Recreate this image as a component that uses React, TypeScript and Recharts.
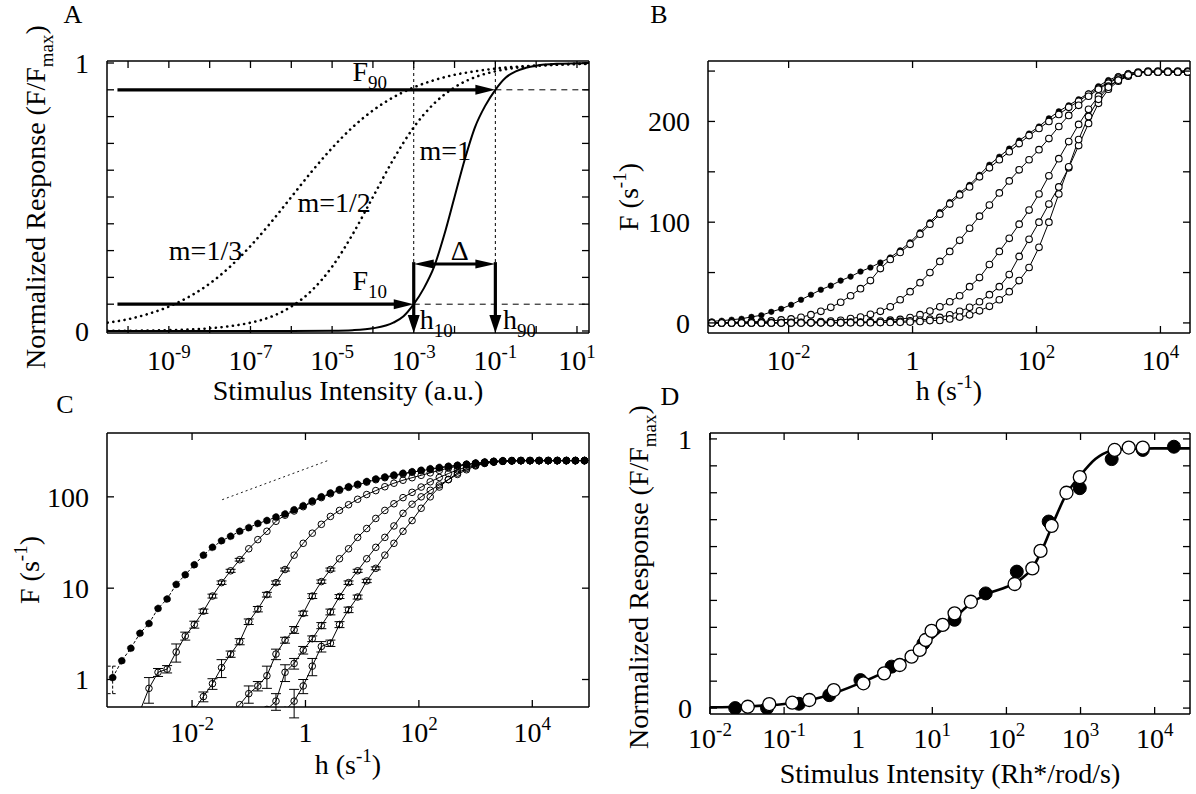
import React from 'react';
import { ComposedChart, Line, XAxis, YAxis, ReferenceLine, ReferenceDot, ErrorBar } from 'recharts';

const W = 1196;
const H = 794;
const FONT = "'Liberation Serif', 'Times New Roman', Times, serif";
const FS = 28;
const SM = 19;

// ---------------- Panel A : model curves (log10 stimulus, normalized response) ----------------
const A_M1_LOG = [-10.5, -6, -5, -4.5, -4, -3.5, -3.25, -3, -2.75, -2.5, -2.25, -2, -1.75, -1.5, -1.25, -1, -0.75, -0.5, -0.25, 0, 0.5, 1, 1.3];
const A_M1_F = [0, 0.0001, 0.001, 0.003, 0.01, 0.031, 0.055, 0.1, 0.16, 0.24, 0.36, 0.5, 0.64, 0.76, 0.84, 0.9, 0.945, 0.969, 0.982, 0.99, 0.997, 0.999, 1.0];
const A_M2_LOG = [-10.5, -10, -9, -8, -7.5, -7, -6.5, -6, -5.5, -5, -4.5, -4, -3.5, -3, -2.5, -2, -1.5, -1, -0.5, 0, 0.5, 1, 1.3];
const A_M2_F = [0.001, 0.001, 0.003, 0.01, 0.018, 0.031, 0.053, 0.091, 0.151, 0.24, 0.36, 0.5, 0.64, 0.76, 0.849, 0.909, 0.947, 0.969, 0.982, 0.99, 0.994, 0.997, 0.998];
const A_M3_LOG = [-10.5, -10, -9.5, -9, -8.5, -8, -7.5, -7, -6.5, -6, -5.5, -5, -4.5, -4, -3.5, -3, -2.5, -2, -1.5, -1, -0.5, 0, 0.5, 1, 1.3];
const A_M3_F = [0.031, 0.044, 0.064, 0.091, 0.128, 0.177, 0.24, 0.317, 0.405, 0.5, 0.595, 0.683, 0.76, 0.823, 0.872, 0.909, 0.936, 0.956, 0.969, 0.979, 0.986, 0.99, 0.994, 0.996, 0.997];
const A_H10 = 1e-3;
const A_H90 = 1e-1;
const A_F10 = 0.1;
const A_F90 = 0.9;
const A_ARROW_FROM = 5.5e-11;
const A_BRACKET_TOP = 0.257;
const A_DELTA_Y = 0.25;
const A_X_TICKS = [1e-10, 1e-9, 1e-8, 1e-7, 1e-6, 1e-5, 1e-4, 1e-3, 1e-2, 1e-1, 1, 10];
const A_X_LABELED = [-9, -7, -5, -3, -1, 1];
const UNIT_TICKS = [0, 0.1, 0.2, 0.3, 0.4, 0.5, 0.6, 0.7, 0.8, 0.9, 1];

// ---------------- Panels B & C : firing rate F vs h (same data) ----------------
const HC_LOG = [-3.4, -3.24, -3.08, -2.92, -2.76, -2.6, -2.44, -2.28, -2.12, -1.96, -1.8, -1.64, -1.48, -1.32, -1.16, -1.0, -0.84, -0.68, -0.52, -0.36, -0.2, -0.04, 0.12, 0.28, 0.44, 0.6, 0.76, 0.92, 1.08, 1.24, 1.4, 1.56, 1.72, 1.88, 2.04, 2.2, 2.36, 2.52, 2.68, 2.84, 3.0, 3.16, 3.32, 3.48, 3.64, 3.8, 3.96, 4.12, 4.28, 4.44, 4.6, 4.76, 4.92];
const F_FILLED = [1.05, 1.6, 2.2, 3.2, 4.1, 6.0, 7.6, 11, 14, 18, 23, 28, 33, 37, 42, 46, 51, 55, 60, 65, 72, 80, 90, 100, 110, 120, 129, 137, 147, 157, 165, 173, 181, 188, 195, 203, 210, 216, 222, 228, 235, 241, 245, 248, 249, 250, 250, 250, 250, 250, 250, 250, 250];
const F_OPEN1 = [0.1, 0.15, 0.25, 0.45, 0.8, 1.2, 1.3, 2.0, 3.0, 4.0, 5.6, 8.2, 11.5, 15.5, 20.5, 27, 34, 42, 54, 63, 70, 78, 88, 98, 108, 118, 127, 135, 145, 154, 162, 170, 178, 186, 193, 200, 207, 214, 220, 227, 233, 239, 244, 247, 249, 250, 250, 250, 250, 250, 250, 250, 250];
const F_OPEN2 = [0.05, 0.06, 0.08, 0.1, 0.13, 0.17, 0.22, 0.28, 0.36, 0.47, 0.65, 0.9, 1.35, 1.9, 2.6, 4.3, 5.9, 8.5, 11.5, 16, 23, 31, 40, 50, 61, 71, 82, 94, 106, 117, 129, 141, 152, 162, 172, 183, 195, 206, 216, 225, 232, 238, 243, 246, 248, 249, 249, 249, 249, 249, 249, 249, 249];
const F_OPEN3 = [0.02, 0.025, 0.03, 0.04, 0.05, 0.06, 0.08, 0.1, 0.13, 0.16, 0.2, 0.26, 0.33, 0.42, 0.53, 0.7, 0.85, 1.1, 1.9, 2.7, 3.5, 5.3, 8.2, 11.8, 16, 21, 27, 36, 45, 58, 71, 84, 98, 112, 128, 146, 163, 180, 197, 212, 225, 235, 241, 245, 248, 249, 249, 249, 249, 249, 249, 249, 249];
const F_OPEN4 = [0.01, 0.012, 0.015, 0.02, 0.025, 0.03, 0.04, 0.05, 0.06, 0.08, 0.1, 0.13, 0.16, 0.2, 0.25, 0.3, 0.38, 0.47, 0.58, 1.2, 1.5, 2.1, 2.8, 3.9, 5.5, 8.1, 11.5, 15.5, 21, 28, 36, 48, 66, 83, 100, 118, 135, 154, 176, 198, 218, 232, 240, 245, 248, 249, 249, 249, 249, 249, 249, 249, 249];
const F_OPEN5 = [0.005, 0.006, 0.008, 0.01, 0.012, 0.015, 0.02, 0.025, 0.03, 0.04, 0.05, 0.06, 0.08, 0.1, 0.13, 0.17, 0.22, 0.28, 0.36, 0.46, 0.58, 0.85, 1.4, 2.3, 2.5, 4.0, 5.8, 8.0, 12, 16.5, 23, 31, 42, 55, 75, 100, 128, 155, 182, 205, 222, 234, 241, 246, 248, 249, 249, 249, 249, 249, 249, 249, 249];
// error bars (grid index, half-width) shown in panel C
const ERR_FILLED = [[0, 0.35]];
const ERR_OPEN1 = [[4, 0.25], [5, 0.12], [6, 0.12], [7, 0.45], [8, 0.3], [9, 0.35], [10, 0.3], [11, 0.4], [12, 0.5], [13, 0.6], [14, 0.7]];
const ERR_OPEN2 = [[10, 0.08], [11, 0.12], [12, 0.3], [13, 0.15], [14, 0.2], [15, 0.3], [16, 0.4], [17, 0.5], [18, 0.5], [19, 0.6]];
const ERR_OPEN3 = [[15, 0.15], [16, 0.1], [17, 0.3], [18, 0.25], [19, 0.2], [20, 0.3], [21, 0.3], [22, 0.5], [23, 0.5], [24, 0.6]];
const ERR_OPEN4 = [[18, 0.12], [19, 0.25], [20, 0.2], [21, 0.2], [22, 0.2], [23, 0.3], [24, 0.4], [25, 0.4], [26, 0.5], [27, 0.6]];
const ERR_OPEN5 = [[20, 0.2], [21, 0.15], [22, 0.3], [23, 0.3], [24, 0.2], [25, 0.3], [26, 0.4], [27, 0.4], [28, 0.5], [29, 0.6]];
const C_SLOPE_H = [0.034, 2.5];
const C_SLOPE_F = [93, 250];
const BC_X_TICKS = [1e-2, 1, 1e2, 1e4];
const B_Y_TICKS = [0, 50, 100, 150, 200, 250];
const B_Y_LABELED = [0, 100, 200];
const C_Y_TICKS = [1, 10, 100];

// ---------------- Panel D : normalized response vs stimulus ----------------
const D_FILLED_LOG = [-1.66, -1.23, -0.8, -0.39, 0.03, 0.45, 0.88, 1.3, 1.72, 2.14, 2.57, 2.99, 3.42, 3.84, 4.26];
const D_FILLED_F = [0.0, 0.0, 0.016, 0.048, 0.104, 0.154, 0.24, 0.328, 0.426, 0.507, 0.693, 0.817, 0.925, 0.959, 0.971];
const D_OPEN_LOG = [-1.49, -1.2, -0.89, -0.66, -0.33, 0.07, 0.35, 0.56, 0.72, 0.83, 0.91, 0.99, 1.14, 1.3, 1.52, 2.11, 2.35, 2.46, 2.61, 2.81, 2.99, 3.46, 3.65, 3.84];
const D_OPEN_F = [0.005, 0.015, 0.02, 0.03, 0.067, 0.092, 0.129, 0.16, 0.191, 0.216, 0.253, 0.287, 0.309, 0.352, 0.395, 0.461, 0.519, 0.584, 0.677, 0.8, 0.858, 0.959, 0.968, 0.968];
const D_FIT_LOG = [-2, -1.5, -1, -0.5, 0, 0.5, 0.75, 1, 1.25, 1.5, 1.75, 2, 2.2, 2.35, 2.5, 2.65, 2.8, 3, 3.2, 3.4, 3.6, 4, 4.48];
const D_FIT_F = [0.003, 0.006, 0.015, 0.04, 0.09, 0.155, 0.2, 0.26, 0.32, 0.385, 0.425, 0.45, 0.48, 0.52, 0.6, 0.7, 0.79, 0.865, 0.925, 0.955, 0.963, 0.965, 0.965];
const D_X_TICKS = [1e-2, 1e-1, 1, 10, 100, 1e3, 1e4];

// ---------------- helpers ----------------
const toPts = (logs: number[], vals: number[]) => logs.map((l, i) => ({ h: Math.pow(10, l), F: vals[i] }));
const gridPts = (vals: number[], errs: number[][]) => {
  const m = new Map<number, number>(errs.map((e) => [e[0], e[1]] as [number, number]));
  return HC_LOG.map((l, i) => ({ h: Math.pow(10, l), F: vals[i], err: m.get(i) }));
};
const expOf = (v: number) => Math.round(Math.log10(v));
const pow10 = (e: number) => (
  <>
    10<tspan dy={-12} fontSize={SM}>{e}</tspan>
  </>
);
const TICK_LEN = 7;

const bottomTick = (labelFn: (v: number) => React.ReactNode, dyLab: number) => (p: any) => {
  const { x, y, payload } = p;
  const lab = labelFn(payload.value);
  return (
    <g>
      <line x1={x} y1={y} x2={x} y2={y - TICK_LEN} stroke="#000" strokeWidth={1.3} />
      {lab !== null && (
        <text x={x} y={y + dyLab} textAnchor="middle" fontFamily={FONT} fontSize={FS} fill="#000">
          {lab}
        </text>
      )}
    </g>
  );
};
const topTick = (p: any) => (
  <line x1={p.x} y1={p.y} x2={p.x} y2={p.y + TICK_LEN} stroke="#000" strokeWidth={1.3} />
);
const leftTick = (labelFn: (v: number) => React.ReactNode) => (p: any) => {
  const { x, y, payload } = p;
  const lab = labelFn(payload.value);
  return (
    <g>
      <line x1={x} y1={y} x2={x + TICK_LEN} y2={y} stroke="#000" strokeWidth={1.3} />
      {lab !== null && (
        <text x={x - 18} y={y} dy="0.35em" textAnchor="end" fontFamily={FONT} fontSize={FS} fill="#000">
          {lab}
        </text>
      )}
    </g>
  );
};
const rightTick = (p: any) => (
  <line x1={p.x} y1={p.y} x2={p.x - TICK_LEN} y2={p.y} stroke="#000" strokeWidth={1.3} />
);

function frameAxes(o: any) {
  const common: any = {
    tickLine: false,
    tickSize: 0,
    tickMargin: 0,
    interval: 0,
    allowDataOverflow: true,
    axisLine: { stroke: '#000', strokeWidth: 1.5 },
  };
  return [
    <XAxis key="xb" xAxisId={0} dataKey="h" type="number" scale={o.xScale} domain={o.xDomain} ticks={o.xTicks} height={1} orientation="bottom" tick={bottomTick(o.xLabel, o.xLabDy)} {...common} />,
    <XAxis key="xt" xAxisId="t" dataKey="h" type="number" scale={o.xScale} domain={o.xDomain} ticks={o.xTicks} height={1} orientation="top" tick={topTick} {...common} />,
    <YAxis key="yl" yAxisId={0} type="number" scale={o.yScale} domain={o.yDomain} ticks={o.yTicks} width={1} orientation="left" tick={leftTick(o.yLabel)} {...common} />,
    <YAxis key="yr" yAxisId="r" type="number" scale={o.yScale} domain={o.yDomain} ticks={o.yTicks} width={1} orientation="right" tick={rightTick} {...common} />,
  ];
}
// plot box (left, top, right, bottom) -> chart margins (axes take 1px each side)
const boxMargin = (l: number, t: number, r: number, b: number) => ({ left: l - 1, top: t - 1, right: W - r - 1, bottom: H - b - 1 });

const arrow = (o: { start?: boolean; end?: boolean; len: number; half: number; sw: number }) => (p: any) => {
  const { x1, y1, x2, y2 } = p;
  if ([x1, y1, x2, y2].some((v) => typeof v !== 'number' || !isFinite(v))) return <g />;
  const dx = x2 - x1;
  const dy = y2 - y1;
  const L = Math.hypot(dx, dy) || 1;
  const ux = dx / L;
  const uy = dy / L;
  const nx = -uy;
  const ny = ux;
  const head = (tx: number, ty: number, sgn: number) => {
    const bx = tx - sgn * ux * o.len;
    const by = ty - sgn * uy * o.len;
    return `${tx},${ty} ${bx + nx * o.half},${by + ny * o.half} ${bx - nx * o.half},${by - ny * o.half}`;
  };
  const sx = o.start ? x1 + ux * o.len * 0.8 : x1;
  const sy = o.start ? y1 + uy * o.len * 0.8 : y1;
  const ex = o.end ? x2 - ux * o.len * 0.8 : x2;
  const ey = o.end ? y2 - uy * o.len * 0.8 : y2;
  return (
    <g>
      <line x1={sx} y1={sy} x2={ex} y2={ey} stroke="#000" strokeWidth={o.sw} />
      {o.end && <polygon points={head(x2, y2, 1)} fill="#000" />}
      {o.start && <polygon points={head(x1, y1, -1)} fill="#000" />}
    </g>
  );
};

const note = (key: string, h: number, F: number, content: React.ReactNode, anchor: string = 'start') => (
  <ReferenceDot
    key={key}
    x={h}
    y={F}
    r={0}
    ifOverflow="visible"
    shape={(p: any) => (
      <text x={p.cx} y={p.cy} textAnchor={anchor as any} fontFamily={FONT} fontSize={FS} fill="#000">
        {content}
      </text>
    )}
  />
);

const sub = (main: string, s: string) => (
  <>
    {main}
    <tspan dy={8} fontSize={SM}>{s}</tspan>
  </>
);

const LB: any = { isAnimationActive: false, activeDot: false, dataKey: 'F', xAxisId: 0, yAxisId: 0, legendType: 'none' };
const openDot = { r: 3.3, fill: '#fff', stroke: '#000', strokeWidth: 1.1 };
const openDotC = { r: 3.3, fill: 'none', stroke: '#000', strokeWidth: 1 };
const filledDot = { r: 2.8, fill: '#000', stroke: '#000', strokeWidth: 0.5 };
const filledDotC = { r: 3.5, fill: '#000', stroke: '#000', strokeWidth: 0.5 };

const abs: React.CSSProperties = { position: 'absolute', left: 0, top: 0 };

function PanelA() {
  return (
    <div style={abs}>
      <ComposedChart width={W} height={H} margin={boxMargin(107, 61, 589, 333)}>
        {frameAxes({
          xScale: 'log',
          xDomain: [3.05e-11, 19.7],
          xTicks: A_X_TICKS,
          xLabel: (v: number) => (A_X_LABELED.includes(expOf(v)) ? pow10(expOf(v)) : null),
          xLabDy: 37,
          yScale: 'linear',
          yDomain: [-0.0075, 1.0075],
          yTicks: UNIT_TICKS,
          yLabel: (v: number) => (v === 0 ? '0' : Math.abs(v - 1) < 1e-9 ? '1' : null),
        })}
        <ReferenceLine segment={[{ x: A_H10, y: 1.0075 }, { x: A_H10, y: A_BRACKET_TOP }]} stroke="#000" strokeWidth={1} strokeDasharray="3 3" ifOverflow="visible" />
        <ReferenceLine segment={[{ x: A_H90, y: 1.0075 }, { x: A_H90, y: A_BRACKET_TOP }]} stroke="#000" strokeWidth={1} strokeDasharray="3 3" ifOverflow="visible" />
        <ReferenceLine segment={[{ x: A_H90, y: A_F90 }, { x: 19.7, y: A_F90 }]} stroke="#000" strokeWidth={1} strokeDasharray="6 5" ifOverflow="visible" />
        <ReferenceLine segment={[{ x: A_H10, y: A_F10 }, { x: 19.7, y: A_F10 }]} stroke="#000" strokeWidth={1} strokeDasharray="6 5" ifOverflow="visible" />
        <Line {...LB} data={toPts(A_M3_LOG, A_M3_F)} type="monotone" stroke="#000" strokeWidth={2.6} strokeDasharray="0.1 5.6" strokeLinecap="round" dot={false} />
        <Line {...LB} data={toPts(A_M2_LOG, A_M2_F)} type="monotone" stroke="#000" strokeWidth={2.6} strokeDasharray="0.1 5.6" strokeLinecap="round" dot={false} />
        <Line {...LB} data={toPts(A_M1_LOG, A_M1_F)} type="monotone" stroke="#000" strokeWidth={2} dot={false} />
        <ReferenceLine segment={[{ x: A_ARROW_FROM, y: A_F90 }, { x: A_H90, y: A_F90 }]} shape={arrow({ end: true, len: 20, half: 5, sw: 3.2 })} ifOverflow="visible" />
        <ReferenceLine segment={[{ x: A_ARROW_FROM, y: A_F10 }, { x: A_H10, y: A_F10 }]} shape={arrow({ end: true, len: 20, half: 5, sw: 3.2 })} ifOverflow="visible" />
        <ReferenceLine segment={[{ x: A_H10, y: A_BRACKET_TOP }, { x: A_H10, y: -0.0075 }]} shape={arrow({ end: true, len: 18, half: 6, sw: 3.2 })} ifOverflow="visible" />
        <ReferenceLine segment={[{ x: A_H90, y: A_BRACKET_TOP }, { x: A_H90, y: -0.0075 }]} shape={arrow({ end: true, len: 18, half: 6, sw: 3.2 })} ifOverflow="visible" />
        <ReferenceLine segment={[{ x: A_H10, y: A_DELTA_Y }, { x: A_H90, y: A_DELTA_Y }]} shape={arrow({ start: true, end: true, len: 20, half: 4.5, sw: 3.2 })} ifOverflow="visible" />
        {note('f90', Math.pow(10, -4.5), 0.933, sub('F', '90'))}
        {note('f10', Math.pow(10, -4.5), 0.153, sub('F', '10'))}
        {note('m1', Math.pow(10, -2.86), 0.638, 'm=1')}
        {note('m2', Math.pow(10, -5.85), 0.444, 'm=1/2')}
        {note('m3', Math.pow(10, -9.0), 0.265, 'm=1/3')}
        {note('dl', Math.pow(10, -1.87), 0.265, 'Δ', 'middle')}
        {note('h10', Math.pow(10, -2.85), 0.0075, sub('h', '10'))}
        {note('h90', Math.pow(10, -0.81), 0.0075, sub('h', '90'))}
      </ComposedChart>
    </div>
  );
}

const bcX = (v: number) => (expOf(v) === 0 ? '1' : pow10(expOf(v)));

function PanelB() {
  return (
    <div style={abs}>
      <ComposedChart width={W} height={H} margin={boxMargin(708, 61, 1190, 333)}>
        {frameAxes({
          xScale: 'log',
          xDomain: [5e-4, 3e4],
          xTicks: BC_X_TICKS,
          xLabel: bcX,
          xLabDy: 37,
          yScale: 'linear',
          yDomain: [-10, 260],
          yTicks: B_Y_TICKS,
          yLabel: (v: number) => (B_Y_LABELED.includes(v) ? String(v) : null),
        })}
        <Line {...LB} data={gridPts(F_FILLED, [])} stroke="#000" strokeWidth={1} dot={filledDot} />
        <Line {...LB} data={gridPts(F_OPEN1, [])} stroke="#000" strokeWidth={1} dot={openDot} />
        <Line {...LB} data={gridPts(F_OPEN2, [])} stroke="#000" strokeWidth={1} dot={openDot} />
        <Line {...LB} data={gridPts(F_OPEN3, [])} stroke="#000" strokeWidth={1} dot={openDot} />
        <Line {...LB} data={gridPts(F_OPEN4, [])} stroke="#000" strokeWidth={1} dot={openDot} />
        <Line {...LB} data={gridPts(F_OPEN5, [])} stroke="#000" strokeWidth={1} dot={openDot} />
      </ComposedChart>
    </div>
  );
}

function PanelC() {
  const opens = [
    [F_OPEN1, ERR_OPEN1],
    [F_OPEN2, ERR_OPEN2],
    [F_OPEN3, ERR_OPEN3],
    [F_OPEN4, ERR_OPEN4],
    [F_OPEN5, ERR_OPEN5],
  ];
  return (
    <div style={abs}>
      <ComposedChart width={W} height={H} margin={boxMargin(107, 433, 589, 707)}>
        {frameAxes({
          xScale: 'log',
          xDomain: [Math.pow(10, -3.5), 1e5],
          xTicks: BC_X_TICKS,
          xLabel: bcX,
          xLabDy: 35,
          yScale: 'log',
          yDomain: [0.5, 500],
          yTicks: C_Y_TICKS,
          yLabel: (v: number) => String(v),
        })}
        <Line {...LB} data={toPts(C_SLOPE_H.map((v) => Math.log10(v)), C_SLOPE_F)} stroke="#000" strokeWidth={0.9} strokeDasharray="2 3" dot={false} />
        {opens.map(([vals, errs], i) => (
          <Line key={'o' + i} {...LB} data={gridPts(vals as number[], errs as number[][])} stroke="#000" strokeWidth={1} dot={openDotC}>
            <ErrorBar dataKey="err" direction="y" width={5} stroke="#000" strokeWidth={1} />
          </Line>
        ))}
        <Line {...LB} data={gridPts(F_FILLED, ERR_FILLED)} stroke="#000" strokeWidth={1} strokeDasharray="3 2" dot={filledDotC}>
          <ErrorBar dataKey="err" direction="y" width={5} stroke="#000" strokeWidth={1} strokeDasharray="3 2" />
        </Line>
      </ComposedChart>
    </div>
  );
}

function PanelD() {
  return (
    <div style={abs}>
      <ComposedChart width={W} height={H} margin={boxMargin(710, 433, 1190, 714)}>
        {frameAxes({
          xScale: 'log',
          xDomain: [1e-2, 3e4],
          xTicks: D_X_TICKS,
          xLabel: bcX,
          xLabDy: 34,
          yScale: 'linear',
          yDomain: [-0.022, 1.022],
          yTicks: UNIT_TICKS,
          yLabel: (v: number) => (v === 0 ? '0' : Math.abs(v - 1) < 1e-9 ? '1' : null),
        })}
        <Line {...LB} data={toPts(D_FIT_LOG, D_FIT_F)} type="monotone" stroke="#000" strokeWidth={2.6} dot={false} />
        <Line {...LB} data={toPts(D_FILLED_LOG, D_FILLED_F)} stroke="none" dot={{ r: 6.5, fill: '#000', stroke: '#000', strokeWidth: 1 }} />
        <Line {...LB} data={toPts(D_OPEN_LOG, D_OPEN_F)} stroke="none" dot={{ r: 6.5, fill: '#fff', stroke: '#000', strokeWidth: 1.3 }} />
      </ComposedChart>
    </div>
  );
}

function Titles() {
  const t = { fontFamily: FONT, fontSize: FS, fill: '#000' } as any;
  const L = { fontFamily: FONT, fontSize: 26, fill: '#000' } as any;
  return (
    <svg width={W} height={H} style={abs}>
      <text x={73} y={23} textAnchor="middle" {...L}>A</text>
      <text x={659} y={23} textAnchor="middle" {...L}>B</text>
      <text x={65} y={413} textAnchor="middle" {...L}>C</text>
      <text x={670} y={405} textAnchor="middle" {...L}>D</text>

      <text x={348} y={400} textAnchor="middle" {...t}>Stimulus Intensity (a.u.)</text>
      <text transform="translate(45,197) rotate(-90)" textAnchor="middle" {...t}>
        Normalized Response (F/F<tspan dy={8} fontSize={SM}>max</tspan><tspan dy={-8}>)</tspan>
      </text>

      <text x={949} y={400} textAnchor="middle" {...t}>
        h (s<tspan dy={-12} fontSize={SM}>-1</tspan><tspan dy={12}>)</tspan>
      </text>
      <text transform="translate(638,197) rotate(-90)" textAnchor="middle" {...t}>
        F (s<tspan dy={-12} fontSize={SM}>-1</tspan><tspan dy={12}>)</tspan>
      </text>

      <text x={348} y={774} textAnchor="middle" {...t}>
        h (s<tspan dy={-12} fontSize={SM}>-1</tspan><tspan dy={12}>)</tspan>
      </text>
      <text transform="translate(39,570) rotate(-90)" textAnchor="middle" {...t}>
        F (s<tspan dy={-12} fontSize={SM}>-1</tspan><tspan dy={12}>)</tspan>
      </text>

      <text x={950} y={783} textAnchor="middle" {...t}>Stimulus Intensity (Rh*/rod/s)</text>
      <text transform="translate(648,577) rotate(-90)" textAnchor="middle" {...t}>
        Normalized Response (F/F<tspan dy={8} fontSize={SM}>max</tspan><tspan dy={-8}>)</tspan>
      </text>
    </svg>
  );
}

export default function App() {
  return (
    <div style={{ position: 'absolute', left: 0, top: 0, width: W, height: H, background: '#fff', overflow: 'hidden' }}>
      <PanelA />
      <PanelB />
      <PanelC />
      <PanelD />
      <Titles />
    </div>
  );
}
